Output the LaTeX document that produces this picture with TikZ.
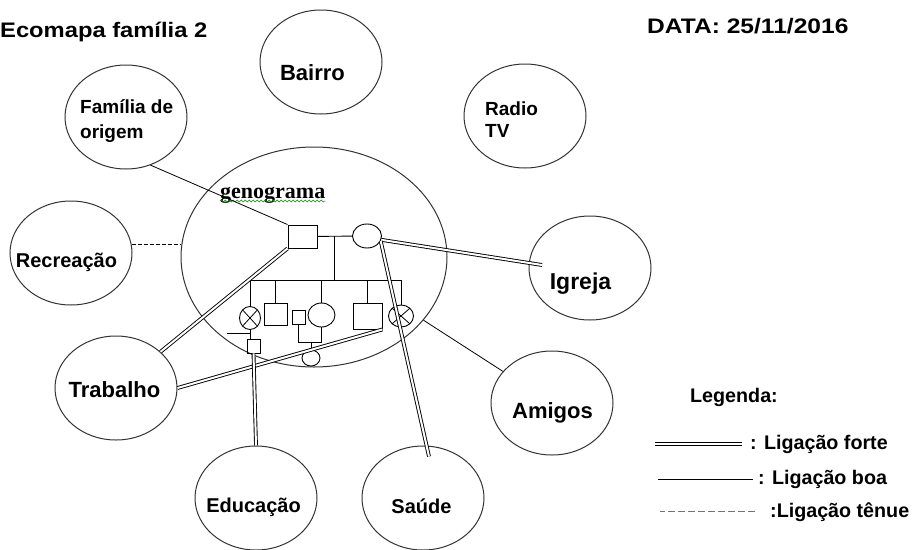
\documentclass[tikz,border=0pt]{standalone}
\usepackage{fontspec}
\setmainfont{Liberation Sans}
\newfontfamily\serifgeno{Liberation Serif}
\usetikzlibrary{shapes.geometric,calc,decorations.pathmorphing}

\tikzset{
  eco/.style={ellipse,draw=black!80,line width=1pt,minimum width=122,minimum height=104,inner sep=0},
  lbl/.style={font=\bfseries\fontsize{22}{26}\selectfont,anchor=base,inner sep=0},
  lbls/.style={font=\bfseries\fontsize{20}{24}\selectfont,anchor=base,inner sep=0},
  titulo/.style={font=\bfseries\fontsize{21}{25}\selectfont,anchor=base west,inner sep=0},
  leg/.style={font=\bfseries\fontsize{19.7}{24}\selectfont,anchor=base west,inner sep=0},
  sq/.style={rectangle,draw,line width=.9pt,inner sep=0},
  fem/.style={ellipse,draw,line width=.9pt,inner sep=0},
  falec/.style={fem,path picture={\draw[line width=.8pt]
      (path picture bounding box.north west)--(path picture bounding box.south east)
      (path picture bounding box.north east)--(path picture bounding box.south west);}},
  gen/.style={line width=.9pt},
  forte/.style={double,double distance=2pt,line width=.9pt},
  boa/.style={line width=.8pt},
  tenue/.style={line width=.8pt,dash pattern=on 4pt off 2pt},
  tenueleg/.style={line width=.8pt,black!55,dash pattern=on 7pt off 3pt}
}

\begin{document}
\begin{tikzpicture}[x=1pt,y=-1pt]
\useasboundingbox (0,0) rectangle (913,549);
\node[titulo,xscale=1.13] (tit) at (0,37) {Ecomapa família 2};
\node[titulo,xscale=1.17] (data) at (647,33) {DATA: 25/11/2016};

% sistemas
\node[eco,minimum width=266,minimum height=220] (geno) at (314,257) {};
\node[eco] (famorig) at (126,117) {};
\node[eco] (bairro) at (321,62) {};
\node[eco] (radio) at (525,116) {};
\node[eco] (recr) at (71,253) {};
\node[eco] (trab) at (116,388) {};
\node[eco] (igreja) at (590,268) {};
\node[eco] (amigos) at (552,403) {};
\node[eco] (educ) at (256,498) {};
\node[eco] (saude) at (423,498) {};

\node[font=\bfseries\fontsize{19}{25}\selectfont,align=left,anchor=north west,inner sep=0] (famorig-t) at (80,99) {Família de\\origem};
\node[lbl] (bairro-t) at (312.5,80) {Bairro};
\node[font=\bfseries\fontsize{19}{22}\selectfont,align=left,anchor=north west,inner sep=0] (radio-t) at (485,102) {Radio\\TV};
\node[lbls] (recr-t) at (66.5,267) {Recreação};
\node[lbl] (trab-t) at (114.5,397) {Trabalho};
\node[lbl,font=\bfseries\fontsize{23}{27}\selectfont] (igreja-t) at (580.5,289) {Igreja};
\node[lbl] (amigos-t) at (552.5,418) {Amigos};
\node[lbls] (educ-t) at (253.5,512) {Educação};
\node[lbls] (saude-t) at (421.5,513) {Saúde};

% genograma
\node[font=\serifgeno\bfseries\fontsize{22}{26}\selectfont,anchor=base west,inner sep=0] (geno-t) at (220,198) {genograma};
\draw[green!55!black,line width=.5pt,decorate,decoration={snake,amplitude=1pt,segment length=4pt}]
  ([yshift=-3pt]geno-t.base west) -- ([yshift=-3pt]geno-t.base east);

\node[sq,minimum width=29,minimum height=23] (pai) at (302.5,236.5) {};
\node[fem,minimum width=29,minimum height=24] (mae) at (367,236) {};
\coordinate (uniao) at ($(pai.east)!.5!(mae.west)$);
\coordinate (irm) at ($(uniao)+(0,44)$);
\node[falec,minimum width=21,minimum height=23] (f1) at (250,318) {};
\node[sq,minimum width=23,minimum height=22] (f2) at (275.5,314) {};
\node[fem,minimum width=27,minimum height=24] (f3) at (321.5,315) {};
\node[sq,minimum width=29,minimum height=26] (f4) at (367.5,316) {};
\node[falec,minimum width=25,minimum height=22] (f5) at (401,316) {};
\node[sq,minimum width=13,minimum height=14] (conj3) at (298.5,317) {};
\node[sq,minimum width=13,minimum height=14] (neto1) at (253.5,346) {};
\node[fem,minimum width=18,minimum height=16] (neto3) at (311,358) {};
\coordinate (traco) at (227,333);
\coordinate (u3) at ($(conj3.south)+(0,18)$);

\draw[gen] (pai) -- (mae);
\draw[gen] (uniao) -- (irm);
\draw[gen] (irm -| f1) -- (irm -| f5);
\foreach \f in {f1,f2,f3,f4,f5} \draw[gen] (irm -| \f) -- (\f.north);
\draw[gen] (conj3.south) -- (u3) -| (f3.south);
\draw[gen] (u3 -| neto3.north) -- (neto3.north);
\draw[gen] (f1.south) -- (f1.south |- neto1.north);
\draw[gen] (traco) -- (traco -| f1.south);

% ligacoes
\draw[boa] (famorig.-63) -- (pai.north west);
\draw[tenue] (recr.8) -- (recr.8 -| geno.west);
\draw[forte] (pai.south west) -- (trab);
\draw[forte] (f4.south east) -- (trab.east);
\draw[forte] (mae.-15) -- ([shift={(-48,-3)}]igreja.center);
\draw[forte] (mae.-20) -- ([shift={(6,11)}]saude.north);
\draw[boa] (geno.-30) -- (amigos);
\draw[forte] (neto1.south) -- (educ.north);

% legenda
\node[leg] (legenda) at (690,402) {Legenda:};
\node[leg] (lforte) at (750,449) {: Ligação forte};
\node[leg] (lboa) at (758,484) {: Ligação boa};
\node[leg] (ltenue) at (770,517) {:Ligação tênue};
\draw[forte] ([xshift=-8pt]lforte.west) -- ++(-87,0);
\draw[boa] ([xshift=-5pt]lboa.west) -- ++(-95,0);
\draw[tenueleg] ([xshift=-15pt]ltenue.west) -- ++(-95,0);
\end{tikzpicture}
\end{document}
